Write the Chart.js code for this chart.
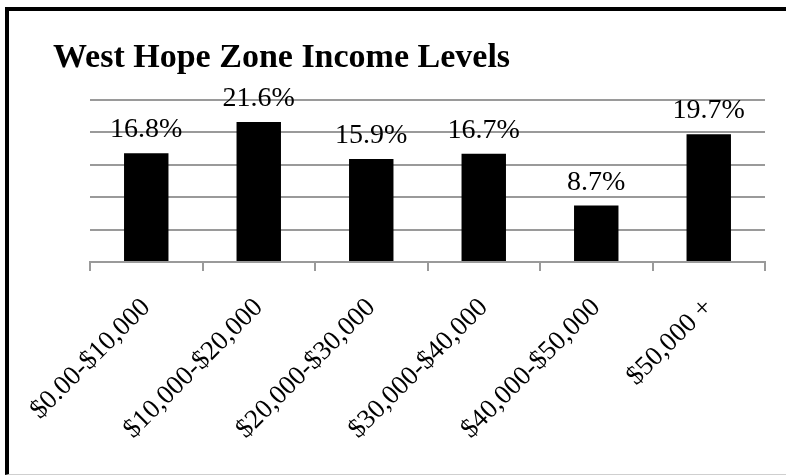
<!DOCTYPE html>
<html>
<head>
<meta charset="utf-8">
<script src="https://cdn.jsdelivr.net/npm/chart.js@4/dist/chart.umd.min.js"></script>
<style>
  html, body { margin: 0; padding: 0; background: #fff; }
  #wrap { position: relative; width: 786px; height: 475px; overflow: hidden; }
  #chart { position: absolute; left: 0; top: 0; }
  #frame {
    position: absolute; left: 5px; top: 7px; width: 800px; bottom: 0;
    border-left: 4px solid #000; border-top: 4px solid #000;
    border-bottom: 1px solid #cfcfcf; pointer-events: none;
  }
</style>
</head>
<body>
<div id="wrap">
  <canvas id="chart" width="786" height="475"></canvas>
  <div id="frame"></div>
</div>
<script>
// chart data
const chartTitle = 'West Hope Zone Income Levels';
const categories = ['$0.00-$10,000', '$10,000-$20,000', '$20,000-$30,000', '$30,000-$40,000', '$40,000-$50,000', '$50,000 +'];
const shares = [16.8, 21.6, 15.9, 16.7, 8.7, 19.7];
const yTicks = [0, 5, 10, 15, 20, 25];

const serif = '"Liberation Serif", "Times New Roman", serif';
const gridGray = '#9a9a9a';

// percent labels above each bar
const barLabels = {
  id: 'barLabels',
  afterDatasetsDraw(chart) {
    const ctx = chart.ctx;
    const meta = chart.getDatasetMeta(0);
    ctx.save();
    ctx.font = '28px ' + serif;
    ctx.fillStyle = '#000';
    ctx.textAlign = 'center';
    ctx.textBaseline = 'alphabetic';
    meta.data.forEach((bar, i) => {
      ctx.fillText(shares[i].toFixed(1) + '%', bar.x, bar.y - 16);
    });
    ctx.restore();
  }
};

new Chart(document.getElementById('chart'), {
  type: 'bar',
  data: {
    labels: categories,
    datasets: [{
      data: shares,
      backgroundColor: '#000',
      borderWidth: 0,
      barPercentage: 0.395,
      categoryPercentage: 1
    }]
  },
  options: {
    responsive: false,
    animation: false,
    layout: { padding: { left: 53, right: 21, top: 0, bottom: 0 } },
    plugins: {
      legend: { display: false },
      tooltip: { enabled: false },
      title: {
        display: true,
        text: chartTitle,
        align: 'start',
        color: '#000',
        font: { family: serif, size: 34, weight: 'bold', lineHeight: 1 },
        padding: { top: 41, bottom: 25 }
      }
    },
    scales: {
      x: {
        afterFit: s => { s.height = 213; },
        border: { color: gridGray, width: 2 },
        grid: { offset: true, drawOnChartArea: false, color: gridGray, lineWidth: 2, tickLength: 9 },
        ticks: {
          color: '#000',
          font: { family: serif, size: 27 },
          maxRotation: 45,
          minRotation: 45,
          padding: 21,
          autoSkip: false
        }
      },
      y: {
        min: 0,
        max: 25,
        afterFit: s => { s.width = 37; },
        afterBuildTicks: s => { s.ticks = yTicks.map(v => ({ value: v })); },
        border: { display: false },
        grid: { color: gridGray, lineWidth: 2, drawTicks: false },
        ticks: { display: false }
      }
    }
  },
  plugins: [barLabels]
});
</script>
</body>
</html>
